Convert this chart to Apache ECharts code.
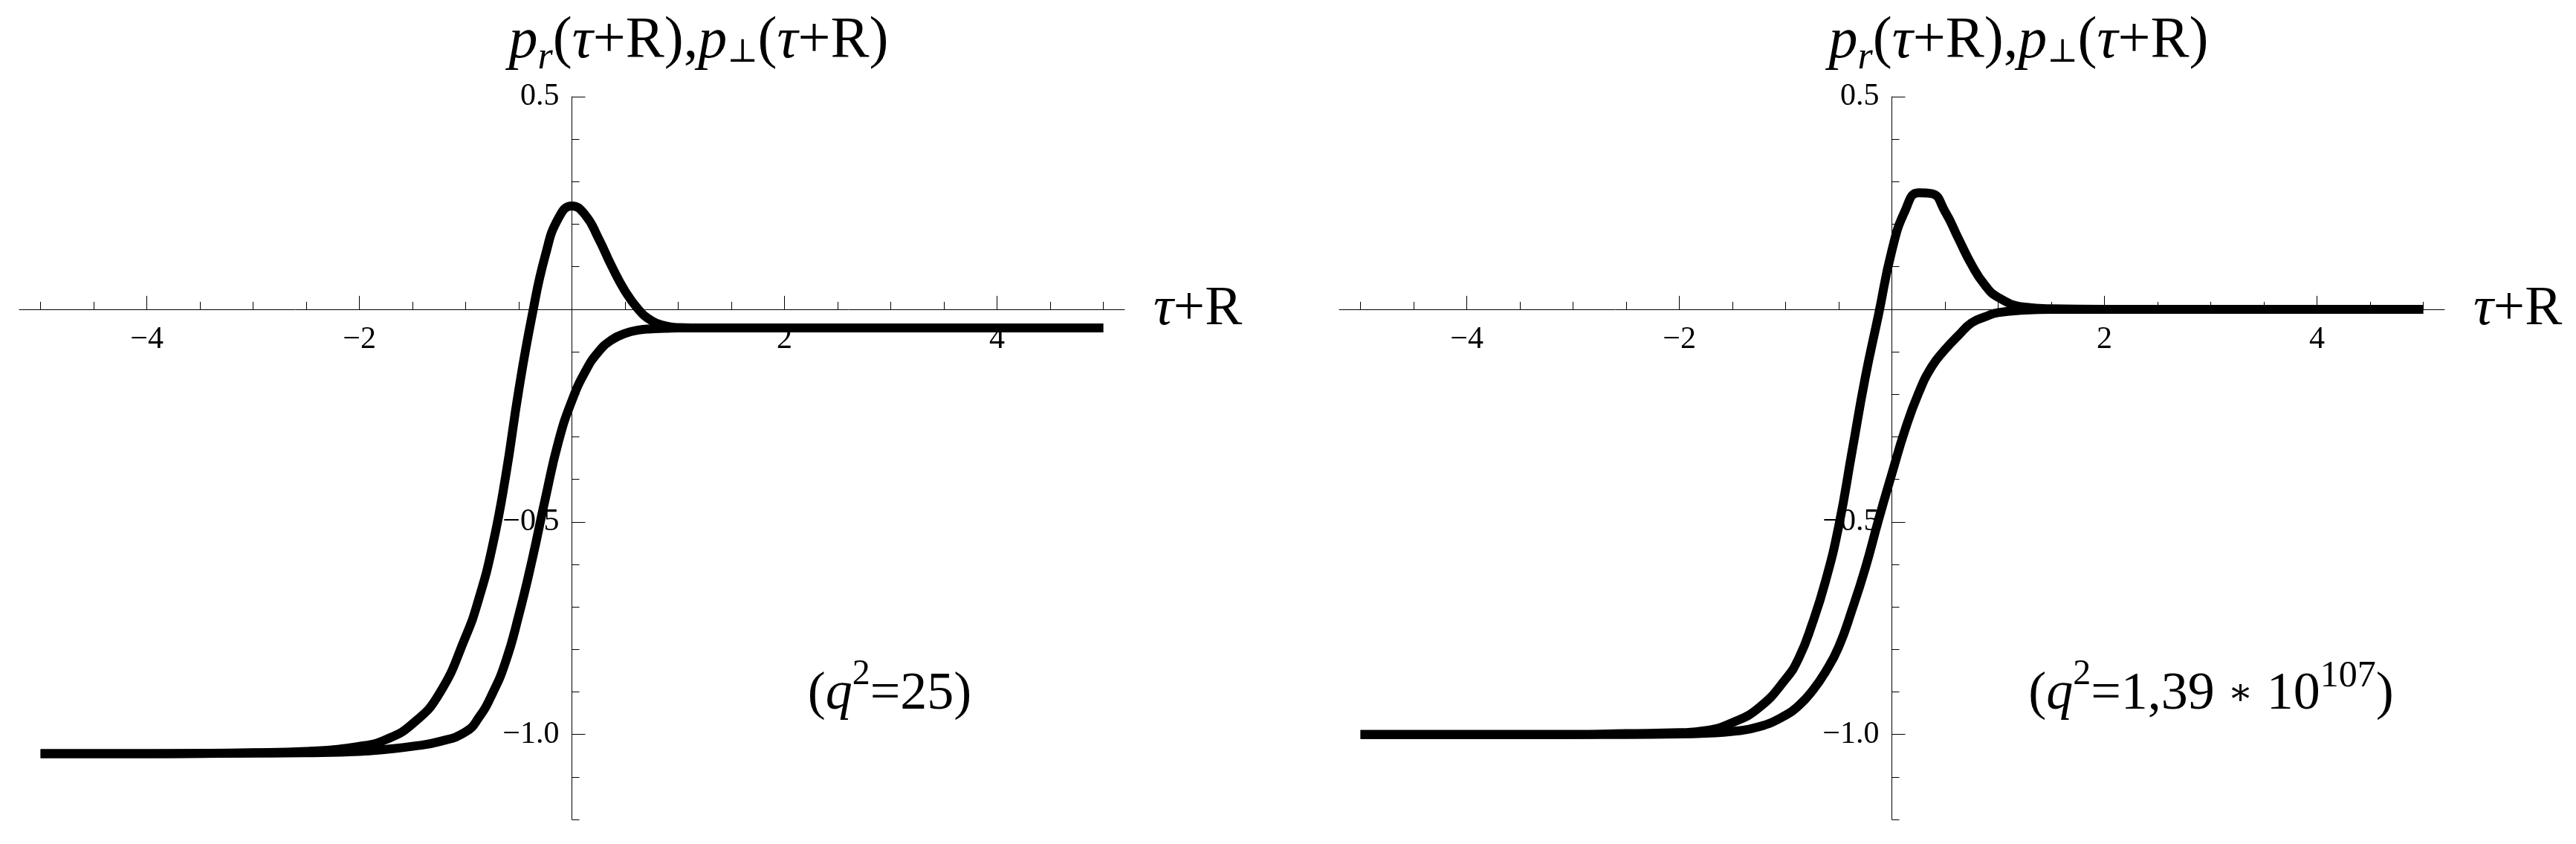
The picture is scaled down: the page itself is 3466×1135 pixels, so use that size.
<!DOCTYPE html>
<html>
<head>
<meta charset="utf-8">
<title>p_r, p_perp</title>
<script src="https://cdn.jsdelivr.net/npm/echarts@6/dist/echarts.min.js"></script>
<style>
html, body { margin: 0; padding: 0; background: #fff; }
#chart { width: 3466px; height: 1135px; }
</style>
</head>
<body>
<div id="chart"></div>
<script>
// tau + R sample points, shared by the four curves
var tauR = [-5, -4, -3, -2.5, -2, -1.75, -1.5, -1.25, -1, -0.875, -0.75, -0.625, -0.5, -0.375, -0.25, -0.125,
  0, 0.125, 0.25, 0.375, 0.5, 0.625, 0.75, 0.875, 1, 1.25, 1.5, 2, 3, 4, 5];

// left panel, q^2 = 25
var bumpLeft = [-1.045, -1.045, -1.043, -1.04, -1.028, -1.012, -0.975, -0.905, -0.77, -0.68, -0.56, -0.395, -0.19, -0.015, 0.127, 0.215,
  0.243, 0.222, 0.167, 0.101, 0.043, 0.0, -0.027, -0.039, -0.043, -0.044, -0.044, -0.044, -0.044, -0.044, -0.044];
var smoothLeft = [-1.045, -1.045, -1.044, -1.043, -1.04, -1.035, -1.028, -1.017, -0.994, -0.96, -0.905, -0.83, -0.72, -0.59, -0.445, -0.31,
  -0.215, -0.147, -0.1, -0.072, -0.057, -0.049, -0.046, -0.045, -0.044, -0.044, -0.044, -0.044, -0.044, -0.044, -0.044];

// right panel, q^2 = 1,39*10^107
var bumpRight = [-1.0, -1.0, -1.0, -0.998, -0.996, -0.991, -0.972, -0.937, -0.87, -0.82, -0.74, -0.64, -0.51, -0.335, -0.16, -0.012,
  0.138, 0.232, 0.274, 0.272, 0.23, 0.167, 0.105, 0.057, 0.028, 0.005, 0.001, 0, 0, 0, 0];
var smoothRight = [-1.0, -1.0, -1.0, -1.0, -0.999, -0.997, -0.993, -0.982, -0.955, -0.932, -0.898, -0.853, -0.794, -0.707, -0.609, -0.495,
  -0.387, -0.283, -0.198, -0.135, -0.095, -0.062, -0.032, -0.018, -0.008, -0.002, 0, 0, 0, 0, 0];

// ticks
var xMajor = [-4, -2, 2, 4];
var xMinor = [-5, -4.5, -3.5, -3, -2.5, -1.5, -1, -0.5, 0.5, 1, 1.5, 2.5, 3, 3.5, 4.5, 5];
var yMajor = [-1, -0.5, 0.5];
var yMinor = [-1.2, -1.1, -0.9, -0.8, -0.7, -0.6, -0.4, -0.3, -0.2, -0.1, 0.1, 0.2, 0.3, 0.4];

var X_MIN = -5.2, X_MAX = 5.2, Y_MIN = -1.2, Y_MAX = 0.5;
var GRID_TOP = 130, GRID_H = 972, GRID_W = 1487;
// axes sit on x = 0 / y = 0 inside the plot box
var X_OFF = -GRID_H * (0 - Y_MIN) / (Y_MAX - Y_MIN);
var Y_OFF = -GRID_W * (0 - X_MIN) / (X_MAX - X_MIN);

var F = "Liberation Serif";

function pairs(ys) {
  return tauR.map(function (x, i) { return [x, ys[i]]; });
}
function minus(s) { return String(s).replace('-', '\u2212'); }

function xAxes(grid) {
  return [{
    type: 'value', gridIndex: grid, position: 'bottom', offset: X_OFF, min: X_MIN, max: X_MAX,
    axisLine: { onZero: false, lineStyle: { color: '#000', width: 1 } },
    axisTick: { inside: true, length: 18, customValues: xMajor, lineStyle: { color: '#000', width: 1 } },
    axisLabel: { customValues: xMajor, margin: 20, color: '#000', fontFamily: F, fontSize: 42,
      formatter: function (v) { return minus(v); } },
    splitLine: { show: false },
    name: '{i|\u03c4}{n|+R}', nameLocation: 'end', nameGap: 39,
    nameTextStyle: { rich: {
      i: { fontFamily: F, fontStyle: 'italic', fontSize: 75, color: '#000' },
      n: { fontFamily: F, fontSize: 75, color: '#000' }
    } }
  }, {
    type: 'value', gridIndex: grid, position: 'bottom', offset: X_OFF, min: X_MIN, max: X_MAX,
    axisLine: { onZero: false, show: false },
    axisTick: { show: true, inside: true, length: 10, customValues: xMinor, lineStyle: { color: '#000', width: 1 } },
    axisLabel: { show: false },
    splitLine: { show: false }
  }];
}

function yAxes(grid) {
  return [{
    type: 'value', gridIndex: grid, position: 'left', offset: Y_OFF, min: Y_MIN, max: Y_MAX,
    axisLine: { onZero: false, lineStyle: { color: '#000', width: 1 } },
    axisTick: { inside: true, length: 18, customValues: yMajor, lineStyle: { color: '#000', width: 1 } },
    axisLabel: { customValues: yMajor, margin: 17, color: '#000', fontFamily: F, fontSize: 42,
      formatter: function (v) { return minus(v.toFixed(1)); } },
    splitLine: { show: false }
  }, {
    type: 'value', gridIndex: grid, position: 'left', offset: Y_OFF, min: Y_MIN, max: Y_MAX,
    axisLine: { onZero: false, show: false },
    axisTick: { show: true, inside: true, length: 10, customValues: yMinor, lineStyle: { color: '#000', width: 1 } },
    axisLabel: { show: false },
    splitLine: { show: false }
  }];
}

function curve(xi, yi, ys) {
  return {
    type: 'line', xAxisIndex: xi, yAxisIndex: yi, data: pairs(ys),
    symbol: 'none', smooth: 0.5, silent: true,
    lineStyle: { color: '#000', width: 12, join: 'round' }
  };
}

var titleRich = {
  i: { fontFamily: F, fontStyle: 'italic', fontSize: 78, fill: '#000' },
  n: { fontFamily: F, fontSize: 78, fill: '#000' },
  sb: { fontFamily: F, fontStyle: 'italic', fontSize: 52, fill: '#000', padding: [44, 0, 0, 0] },
  sbn: { fontFamily: 'DejaVu Serif', fontSize: 44, fill: '#000', padding: [32, 0, 0, 0] }
};
var titleText = '{i|p}{sb|r}{n|(}{i|\u03c4}{n|+R),}{i|p}{sbn|\u22a5}{n|(}{i|\u03c4}{n|+R)}';

var noteRich = {
  i: { fontFamily: F, fontStyle: 'italic', fontSize: 72, fill: '#000' },
  n: { fontFamily: F, fontSize: 72, fill: '#000' },
  st: { fontFamily: 'DejaVu Serif', fontSize: 50, fill: '#000' },
  sp: { fontFamily: F, fontSize: 48, fill: '#000', padding: [0, 0, 54, 0] },
  sp2: { fontFamily: F, fontSize: 50, fill: '#000', padding: [0, 0, 48, 0] }
};

var chart = echarts.init(document.getElementById('chart'));
chart.setOption({
  backgroundColor: '#fff',
  animation: false,
  textStyle: { fontFamily: F },
  grid: [
    { left: 26, top: GRID_TOP, width: GRID_W, height: GRID_H, containLabel: false, outerBoundsMode: 'none' },
    { left: 1802, top: GRID_TOP, width: GRID_W, height: GRID_H, containLabel: false, outerBoundsMode: 'none' }
  ],
  xAxis: xAxes(0).concat(xAxes(1)),
  yAxis: yAxes(0).concat(yAxes(1)),
  series: [
    curve(0, 0, bumpLeft),
    curve(0, 0, smoothLeft),
    curve(2, 2, bumpRight),
    curve(2, 2, smoothRight)
  ],
  graphic: [
    { type: 'text', x: 940, y: 56, style: { text: titleText, rich: titleRich, align: 'center', verticalAlign: 'middle' } },
    { type: 'text', x: 2716, y: 56, style: { text: titleText, rich: titleRich, align: 'center', verticalAlign: 'middle' } },
    { type: 'text', x: 1197, y: 934, style: {
      text: '{n|(}{i|q}{sp|2}{n|=25)}', rich: noteRich, align: 'center', verticalAlign: 'middle' } },
    { type: 'text', x: 2975, y: 934, style: {
      text: '{n|(}{i|q}{sp|2}{n|=1,39 }{st|\u2217}{n| 10}{sp2|107}{n|)}', rich: noteRich, align: 'center', verticalAlign: 'middle' } }
  ]
});
</script>
</body>
</html>
